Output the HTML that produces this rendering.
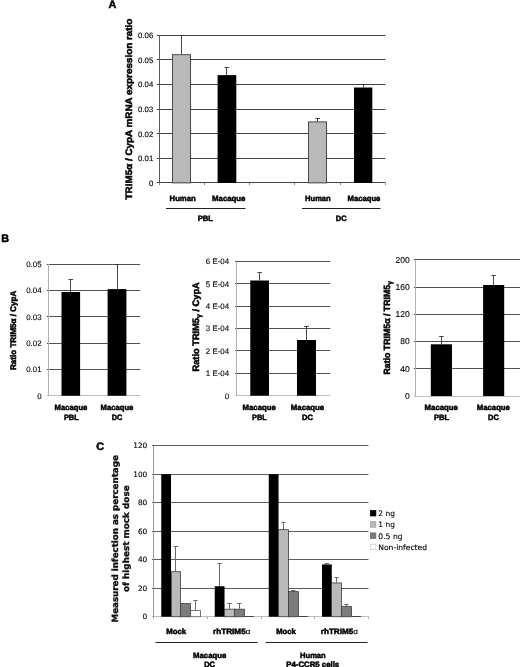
<!DOCTYPE html>
<html><head><meta charset="utf-8"><title>Figure</title>
<style>
html,body{margin:0;padding:0;background:#fff;}
svg{display:block}
text{font-family:"Liberation Sans",Arial,sans-serif;text-rendering:geometricPrecision;stroke:#000;stroke-width:0.12px}
text.b{font-weight:bold;stroke:#000;stroke-width:0.5px;fill:#000}
text.v{font-family:"DejaVu Sans",Verdana,sans-serif}
text.vb{font-family:"DejaVu Sans",Verdana,sans-serif;font-weight:bold;stroke:#000;stroke-width:0.3px}
</style></head><body>
<svg width="520" height="667" viewBox="0 0 520 667">
<rect width="520" height="667" fill="#fff"/>
<text class="b" x="108.60" y="8.20" font-size="10.8" text-anchor="start" fill="#000">A</text>
<line x1="156.80" y1="35.50" x2="385.50" y2="35.50" stroke="#444" stroke-width="1"/>
<text class="r" x="153.30" y="38.10" font-size="7.8" text-anchor="end" fill="#000">0.06</text>
<line x1="156.80" y1="59.50" x2="385.50" y2="59.50" stroke="#444" stroke-width="1"/>
<text class="r" x="153.30" y="62.70" font-size="7.8" text-anchor="end" fill="#000">0.05</text>
<line x1="156.80" y1="84.50" x2="385.50" y2="84.50" stroke="#444" stroke-width="1"/>
<text class="r" x="153.30" y="87.30" font-size="7.8" text-anchor="end" fill="#000">0.04</text>
<line x1="156.80" y1="109.50" x2="385.50" y2="109.50" stroke="#444" stroke-width="1"/>
<text class="r" x="153.30" y="111.90" font-size="7.8" text-anchor="end" fill="#000">0.03</text>
<line x1="156.80" y1="133.50" x2="385.50" y2="133.50" stroke="#444" stroke-width="1"/>
<text class="r" x="153.30" y="136.50" font-size="7.8" text-anchor="end" fill="#000">0.02</text>
<line x1="156.80" y1="158.50" x2="385.50" y2="158.50" stroke="#444" stroke-width="1"/>
<text class="r" x="153.30" y="161.10" font-size="7.8" text-anchor="end" fill="#000">0.01</text>
<text class="r" x="153.30" y="185.70" font-size="7.8" text-anchor="end" fill="#000">0</text>
<line x1="156.80" y1="182.50" x2="385.50" y2="182.50" stroke="#444" stroke-width="1"/>
<line x1="159.50" y1="35.30" x2="159.50" y2="182.90" stroke="#5a5a5a" stroke-width="1"/>
<line x1="159.50" y1="182.90" x2="159.50" y2="185.10" stroke="#888" stroke-width="1"/>
<line x1="204.50" y1="182.90" x2="204.50" y2="185.10" stroke="#888" stroke-width="1"/>
<line x1="249.50" y1="182.90" x2="249.50" y2="185.10" stroke="#888" stroke-width="1"/>
<line x1="294.50" y1="182.90" x2="294.50" y2="185.10" stroke="#888" stroke-width="1"/>
<line x1="340.50" y1="182.90" x2="340.50" y2="185.10" stroke="#888" stroke-width="1"/>
<line x1="385.50" y1="182.90" x2="385.50" y2="185.10" stroke="#888" stroke-width="1"/>
<line x1="181.50" y1="35.30" x2="181.50" y2="54.30" stroke="#333" stroke-width="0.9"/>
<line x1="179.35" y1="35.50" x2="183.95" y2="35.50" stroke="#333" stroke-width="0.9"/>
<rect x="172.50" y="54.70" width="18.00" height="128.20" fill="#b9b9b9" stroke="#3c3c3c" stroke-width="0.9"/>
<line x1="226.50" y1="67.20" x2="226.50" y2="75.10" stroke="#333" stroke-width="0.9"/>
<line x1="224.65" y1="67.50" x2="229.25" y2="67.50" stroke="#333" stroke-width="0.9"/>
<rect x="217.60" y="75.10" width="18.70" height="107.80" fill="#000"/>
<line x1="317.50" y1="118.00" x2="317.50" y2="121.50" stroke="#333" stroke-width="0.9"/>
<line x1="315.35" y1="118.50" x2="319.95" y2="118.50" stroke="#333" stroke-width="0.9"/>
<rect x="308.50" y="121.90" width="18.00" height="61.00" fill="#b9b9b9" stroke="#3c3c3c" stroke-width="0.9"/>
<line x1="363.50" y1="84.50" x2="363.50" y2="87.50" stroke="#333" stroke-width="0.9"/>
<line x1="360.85" y1="84.50" x2="365.45" y2="84.50" stroke="#333" stroke-width="0.9"/>
<rect x="354.00" y="87.50" width="18.30" height="95.40" fill="#000"/>
<text class="b" x="169.60" y="200.60" font-size="7.8" text-anchor="start" fill="#000" textLength="26.10" lengthAdjust="spacingAndGlyphs">Human</text>
<text class="b" x="212.10" y="200.60" font-size="7.8" text-anchor="start" fill="#000" textLength="33.30" lengthAdjust="spacingAndGlyphs">Macaque</text>
<text class="b" x="305.10" y="200.60" font-size="7.8" text-anchor="start" fill="#000" textLength="25.60" lengthAdjust="spacingAndGlyphs">Human</text>
<text class="b" x="347.60" y="200.60" font-size="7.8" text-anchor="start" fill="#000" textLength="32.80" lengthAdjust="spacingAndGlyphs">Macaque</text>
<line x1="166.00" y1="208.50" x2="245.50" y2="208.50" stroke="#222" stroke-width="1"/>
<line x1="302.00" y1="208.50" x2="380.50" y2="208.50" stroke="#222" stroke-width="1"/>
<text class="b" x="197.70" y="220.60" font-size="7.8" text-anchor="start" fill="#000" textLength="15.30" lengthAdjust="spacingAndGlyphs">PBL</text>
<text class="b" x="335.80" y="220.60" font-size="7.8" text-anchor="start" fill="#000" textLength="10.80" lengthAdjust="spacingAndGlyphs">DC</text>
<text class="b" transform="translate(131.60,199.40) rotate(-90)" font-size="9.3" textLength="180.70" lengthAdjust="spacingAndGlyphs" fill="#111">TRIM5α / CypA mRNA expression ratio</text>
<text class="b" x="1.20" y="242.10" font-size="10.8" text-anchor="start" fill="#000">B</text>
<line x1="46.80" y1="264.50" x2="140.20" y2="264.50" stroke="#525252" stroke-width="1"/>
<text class="r" x="41.60" y="266.80" font-size="7.9" text-anchor="end" fill="#000">0.05</text>
<line x1="46.80" y1="290.50" x2="140.20" y2="290.50" stroke="#525252" stroke-width="1"/>
<text class="r" x="41.60" y="293.15" font-size="7.9" text-anchor="end" fill="#000">0.04</text>
<line x1="46.80" y1="316.50" x2="140.20" y2="316.50" stroke="#525252" stroke-width="1"/>
<text class="r" x="41.60" y="319.50" font-size="7.9" text-anchor="end" fill="#000">0.03</text>
<line x1="46.80" y1="343.50" x2="140.20" y2="343.50" stroke="#525252" stroke-width="1"/>
<text class="r" x="41.60" y="345.85" font-size="7.9" text-anchor="end" fill="#000">0.02</text>
<line x1="46.80" y1="369.50" x2="140.20" y2="369.50" stroke="#525252" stroke-width="1"/>
<text class="r" x="41.60" y="372.20" font-size="7.9" text-anchor="end" fill="#000">0.01</text>
<text class="r" x="41.60" y="398.55" font-size="7.9" text-anchor="end" fill="#000">0</text>
<line x1="46.80" y1="395.50" x2="140.20" y2="395.50" stroke="#bdbdbd" stroke-width="1"/>
<line x1="48.50" y1="264.00" x2="48.50" y2="395.75" stroke="#b0b0b0" stroke-width="1"/>
<line x1="70.50" y1="279.30" x2="70.50" y2="292.00" stroke="#333" stroke-width="0.9"/>
<line x1="68.50" y1="279.50" x2="73.10" y2="279.50" stroke="#333" stroke-width="0.9"/>
<rect x="61.50" y="292.00" width="18.60" height="103.75" fill="#000"/>
<line x1="117.50" y1="264.00" x2="117.50" y2="289.10" stroke="#333" stroke-width="0.9"/>
<line x1="114.70" y1="264.50" x2="119.30" y2="264.50" stroke="#333" stroke-width="0.9"/>
<rect x="107.60" y="289.10" width="18.80" height="106.65" fill="#000"/>
<text class="b" x="54.60" y="410.30" font-size="7.8" text-anchor="start" fill="#000" textLength="32.80" lengthAdjust="spacingAndGlyphs">Macaque</text>
<text class="b" x="63.90" y="419.80" font-size="7.8" text-anchor="start" fill="#000" textLength="14.80" lengthAdjust="spacingAndGlyphs">PBL</text>
<text class="b" x="100.60" y="410.30" font-size="7.8" text-anchor="start" fill="#000" textLength="32.80" lengthAdjust="spacingAndGlyphs">Macaque</text>
<text class="b" x="111.80" y="419.80" font-size="7.8" text-anchor="start" fill="#000" textLength="10.60" lengthAdjust="spacingAndGlyphs">DC</text>
<text class="b" transform="translate(15.80,370.00) rotate(-90)" font-size="8.2" textLength="79.30" lengthAdjust="spacingAndGlyphs" fill="#111">Ratio TRIM5α / CypA</text>
<line x1="235.00" y1="261.50" x2="330.30" y2="261.50" stroke="#525252" stroke-width="1"/>
<text class="r" x="229.10" y="264.30" font-size="7.9" text-anchor="end" fill="#000">6 E-04</text>
<line x1="235.00" y1="283.50" x2="330.30" y2="283.50" stroke="#525252" stroke-width="1"/>
<text class="r" x="229.10" y="286.67" font-size="7.9" text-anchor="end" fill="#000">5 E-04</text>
<line x1="235.00" y1="306.50" x2="330.30" y2="306.50" stroke="#525252" stroke-width="1"/>
<text class="r" x="229.10" y="309.04" font-size="7.9" text-anchor="end" fill="#000">4 E-04</text>
<line x1="235.00" y1="328.50" x2="330.30" y2="328.50" stroke="#525252" stroke-width="1"/>
<text class="r" x="229.10" y="331.41" font-size="7.9" text-anchor="end" fill="#000">3 E-04</text>
<line x1="235.00" y1="350.50" x2="330.30" y2="350.50" stroke="#525252" stroke-width="1"/>
<text class="r" x="229.10" y="353.78" font-size="7.9" text-anchor="end" fill="#000">2 E-04</text>
<line x1="235.00" y1="373.50" x2="330.30" y2="373.50" stroke="#525252" stroke-width="1"/>
<text class="r" x="229.10" y="376.15" font-size="7.9" text-anchor="end" fill="#000">1 E-04</text>
<text class="r" x="229.10" y="398.52" font-size="7.9" text-anchor="end" fill="#000">0</text>
<line x1="235.00" y1="395.50" x2="330.30" y2="395.50" stroke="#bdbdbd" stroke-width="1"/>
<line x1="236.50" y1="261.50" x2="236.50" y2="395.72" stroke="#b0b0b0" stroke-width="1"/>
<line x1="259.50" y1="272.80" x2="259.50" y2="280.50" stroke="#333" stroke-width="0.9"/>
<line x1="257.35" y1="272.50" x2="261.95" y2="272.50" stroke="#333" stroke-width="0.9"/>
<rect x="250.30" y="280.50" width="18.70" height="115.22" fill="#000"/>
<line x1="306.50" y1="326.30" x2="306.50" y2="340.00" stroke="#333" stroke-width="0.9"/>
<line x1="304.20" y1="326.50" x2="308.80" y2="326.50" stroke="#333" stroke-width="0.9"/>
<rect x="297.00" y="340.00" width="19.00" height="55.72" fill="#000"/>
<text class="b" x="242.60" y="410.30" font-size="7.8" text-anchor="start" fill="#000" textLength="33.10" lengthAdjust="spacingAndGlyphs">Macaque</text>
<text class="b" x="252.10" y="419.80" font-size="7.8" text-anchor="start" fill="#000" textLength="14.60" lengthAdjust="spacingAndGlyphs">PBL</text>
<text class="b" x="290.80" y="410.30" font-size="7.8" text-anchor="start" fill="#000" textLength="33.40" lengthAdjust="spacingAndGlyphs">Macaque</text>
<text class="b" x="302.10" y="419.80" font-size="7.8" text-anchor="start" fill="#000" textLength="10.90" lengthAdjust="spacingAndGlyphs">DC</text>
<text class="b" transform="translate(199.40,371.50) rotate(-90)" font-size="9.3" textLength="89.30" lengthAdjust="spacingAndGlyphs" fill="#111">Ratio TRIM5<tspan font-size="7" dy="1.2">γ</tspan><tspan dy="-1.2"> / CypA</tspan></text>
<line x1="413.80" y1="259.50" x2="520.00" y2="259.50" stroke="#525252" stroke-width="1"/>
<text class="r" x="409.80" y="262.55" font-size="8.5" text-anchor="end" fill="#000">200</text>
<line x1="413.80" y1="287.50" x2="520.00" y2="287.50" stroke="#525252" stroke-width="1"/>
<text class="r" x="409.80" y="289.80" font-size="8.5" text-anchor="end" fill="#000">160</text>
<line x1="413.80" y1="314.50" x2="520.00" y2="314.50" stroke="#525252" stroke-width="1"/>
<text class="r" x="409.80" y="317.05" font-size="8.5" text-anchor="end" fill="#000">120</text>
<line x1="413.80" y1="341.50" x2="520.00" y2="341.50" stroke="#525252" stroke-width="1"/>
<text class="r" x="409.80" y="344.30" font-size="8.5" text-anchor="end" fill="#000">80</text>
<line x1="413.80" y1="368.50" x2="520.00" y2="368.50" stroke="#525252" stroke-width="1"/>
<text class="r" x="409.80" y="371.55" font-size="8.5" text-anchor="end" fill="#000">40</text>
<text class="r" x="409.80" y="398.80" font-size="8.5" text-anchor="end" fill="#000">0</text>
<line x1="413.80" y1="396.50" x2="520.00" y2="396.50" stroke="#bdbdbd" stroke-width="1"/>
<line x1="415.50" y1="259.75" x2="415.50" y2="396.00" stroke="#b0b0b0" stroke-width="1"/>
<line x1="441.50" y1="336.50" x2="441.50" y2="344.30" stroke="#333" stroke-width="0.9"/>
<line x1="439.10" y1="336.50" x2="443.70" y2="336.50" stroke="#333" stroke-width="0.9"/>
<rect x="430.80" y="344.30" width="21.20" height="51.70" fill="#000"/>
<line x1="493.50" y1="275.50" x2="493.50" y2="285.00" stroke="#333" stroke-width="0.9"/>
<line x1="491.35" y1="275.50" x2="495.95" y2="275.50" stroke="#333" stroke-width="0.9"/>
<rect x="483.10" y="285.00" width="21.10" height="111.00" fill="#000"/>
<text class="b" x="424.60" y="410.30" font-size="7.8" text-anchor="start" fill="#000" textLength="33.30" lengthAdjust="spacingAndGlyphs">Macaque</text>
<text class="b" x="433.90" y="419.80" font-size="7.8" text-anchor="start" fill="#000" textLength="15.30" lengthAdjust="spacingAndGlyphs">PBL</text>
<text class="b" x="476.80" y="410.30" font-size="7.8" text-anchor="start" fill="#000" textLength="33.10" lengthAdjust="spacingAndGlyphs">Macaque</text>
<text class="b" x="488.10" y="419.80" font-size="7.8" text-anchor="start" fill="#000" textLength="10.80" lengthAdjust="spacingAndGlyphs">DC</text>
<text class="b" transform="translate(390.30,374.50) rotate(-90)" font-size="9.0" textLength="93.50" lengthAdjust="spacingAndGlyphs" fill="#111">Ratio TRIM5α / TRIM5<tspan font-size="7" dy="1.2">γ</tspan></text>
<text class="b" x="96.20" y="449.60" font-size="10.8" text-anchor="start" fill="#000">C</text>
<line x1="152.00" y1="445.50" x2="368.50" y2="445.50" stroke="#5c5c5c" stroke-width="1"/>
<text class="v" x="147.30" y="448.45" font-size="7.4" text-anchor="end" fill="#000">120</text>
<line x1="152.00" y1="474.50" x2="368.50" y2="474.50" stroke="#5c5c5c" stroke-width="1"/>
<text class="v" x="147.30" y="476.95" font-size="7.4" text-anchor="end" fill="#000">100</text>
<line x1="152.00" y1="502.50" x2="368.50" y2="502.50" stroke="#5c5c5c" stroke-width="1"/>
<text class="v" x="147.30" y="505.45" font-size="7.4" text-anchor="end" fill="#000">80</text>
<line x1="152.00" y1="531.50" x2="368.50" y2="531.50" stroke="#5c5c5c" stroke-width="1"/>
<text class="v" x="147.30" y="533.95" font-size="7.4" text-anchor="end" fill="#000">60</text>
<line x1="152.00" y1="559.50" x2="368.50" y2="559.50" stroke="#5c5c5c" stroke-width="1"/>
<text class="v" x="147.30" y="562.45" font-size="7.4" text-anchor="end" fill="#000">40</text>
<line x1="152.00" y1="588.50" x2="368.50" y2="588.50" stroke="#5c5c5c" stroke-width="1"/>
<text class="v" x="147.30" y="590.95" font-size="7.4" text-anchor="end" fill="#000">20</text>
<text class="v" x="147.30" y="619.45" font-size="7.4" text-anchor="end" fill="#000">0</text>
<line x1="152.00" y1="616.50" x2="368.50" y2="616.50" stroke="#bdbdbd" stroke-width="1"/>
<line x1="153.50" y1="445.75" x2="153.50" y2="616.75" stroke="#999" stroke-width="1"/>
<line x1="153.50" y1="616.75" x2="153.50" y2="618.95" stroke="#aaa" stroke-width="1"/>
<line x1="207.50" y1="616.75" x2="207.50" y2="618.95" stroke="#aaa" stroke-width="1"/>
<line x1="261.50" y1="616.75" x2="261.50" y2="618.95" stroke="#aaa" stroke-width="1"/>
<line x1="314.50" y1="616.75" x2="314.50" y2="618.95" stroke="#aaa" stroke-width="1"/>
<line x1="368.50" y1="616.75" x2="368.50" y2="618.95" stroke="#aaa" stroke-width="1"/>
<rect x="161.25" y="474.25" width="9.78" height="142.50" fill="#000"/>
<line x1="175.50" y1="546.21" x2="175.50" y2="571.29" stroke="#5a5a5a" stroke-width="0.9"/>
<line x1="173.72" y1="546.50" x2="178.12" y2="546.50" stroke="#5a5a5a" stroke-width="0.9"/>
<rect x="171.50" y="571.69" width="9.00" height="45.06" fill="#b9b9b9" stroke="#3c3c3c" stroke-width="0.8"/>
<rect x="180.50" y="603.61" width="10.00" height="13.14" fill="#7d7d7d" stroke="#3c3c3c" stroke-width="0.8"/>
<line x1="195.50" y1="600.79" x2="195.50" y2="610.05" stroke="#5a5a5a" stroke-width="0.9"/>
<line x1="193.28" y1="600.50" x2="197.68" y2="600.50" stroke="#5a5a5a" stroke-width="0.9"/>
<rect x="190.50" y="610.45" width="10.00" height="6.30" fill="#fff" stroke="#555" stroke-width="0.8"/>
<line x1="219.50" y1="563.74" x2="219.50" y2="586.25" stroke="#5a5a5a" stroke-width="0.9"/>
<line x1="217.44" y1="563.50" x2="221.84" y2="563.50" stroke="#5a5a5a" stroke-width="0.9"/>
<rect x="214.75" y="586.25" width="9.78" height="30.50" fill="#000"/>
<line x1="229.50" y1="603.50" x2="229.50" y2="608.77" stroke="#5a5a5a" stroke-width="0.9"/>
<line x1="227.22" y1="603.50" x2="231.62" y2="603.50" stroke="#5a5a5a" stroke-width="0.9"/>
<rect x="224.50" y="609.17" width="10.00" height="7.58" fill="#b9b9b9" stroke="#3c3c3c" stroke-width="0.8"/>
<line x1="239.50" y1="603.50" x2="239.50" y2="608.77" stroke="#5a5a5a" stroke-width="0.9"/>
<line x1="237.00" y1="603.50" x2="241.40" y2="603.50" stroke="#5a5a5a" stroke-width="0.9"/>
<rect x="234.50" y="609.17" width="10.00" height="7.58" fill="#7d7d7d" stroke="#3c3c3c" stroke-width="0.8"/>
<line x1="244.09" y1="616.50" x2="253.87" y2="616.50" stroke="#444" stroke-width="1"/>
<rect x="268.75" y="474.25" width="9.78" height="142.50" fill="#000"/>
<line x1="283.50" y1="522.56" x2="283.50" y2="529.25" stroke="#5a5a5a" stroke-width="0.9"/>
<line x1="281.22" y1="522.50" x2="285.62" y2="522.50" stroke="#5a5a5a" stroke-width="0.9"/>
<rect x="278.50" y="529.65" width="10.00" height="87.10" fill="#b9b9b9" stroke="#3c3c3c" stroke-width="0.8"/>
<line x1="293.50" y1="590.67" x2="293.50" y2="591.24" stroke="#5a5a5a" stroke-width="0.9"/>
<line x1="291.00" y1="590.50" x2="295.40" y2="590.50" stroke="#5a5a5a" stroke-width="0.9"/>
<rect x="288.50" y="591.64" width="10.00" height="25.11" fill="#7d7d7d" stroke="#3c3c3c" stroke-width="0.8"/>
<line x1="298.09" y1="616.50" x2="307.87" y2="616.50" stroke="#444" stroke-width="1"/>
<line x1="326.50" y1="563.17" x2="326.50" y2="564.45" stroke="#5a5a5a" stroke-width="0.9"/>
<line x1="324.69" y1="563.50" x2="329.09" y2="563.50" stroke="#5a5a5a" stroke-width="0.9"/>
<rect x="322.00" y="564.45" width="9.78" height="52.30" fill="#000"/>
<line x1="336.50" y1="577.99" x2="336.50" y2="582.55" stroke="#5a5a5a" stroke-width="0.9"/>
<line x1="334.47" y1="577.50" x2="338.87" y2="577.50" stroke="#5a5a5a" stroke-width="0.9"/>
<rect x="331.50" y="582.95" width="10.00" height="33.80" fill="#b9b9b9" stroke="#3c3c3c" stroke-width="0.8"/>
<line x1="346.50" y1="604.21" x2="346.50" y2="606.21" stroke="#5a5a5a" stroke-width="0.9"/>
<line x1="344.25" y1="604.50" x2="348.65" y2="604.50" stroke="#5a5a5a" stroke-width="0.9"/>
<rect x="341.50" y="606.61" width="10.00" height="10.14" fill="#7d7d7d" stroke="#3c3c3c" stroke-width="0.8"/>
<line x1="351.34" y1="616.50" x2="361.12" y2="616.50" stroke="#444" stroke-width="1"/>
<text class="b" x="166.30" y="634.30" font-size="7.8" text-anchor="start" fill="#000" textLength="19.90" lengthAdjust="spacingAndGlyphs">Mock</text>
<text class="b" x="213.10" y="634.30" font-size="7.8" text-anchor="start" fill="#000" textLength="37.30" lengthAdjust="spacingAndGlyphs">rhTRIM5<tspan style="font-weight:normal;stroke-width:0.15px">α</tspan></text>
<text class="b" x="276.30" y="634.30" font-size="7.8" text-anchor="start" fill="#000" textLength="19.40" lengthAdjust="spacingAndGlyphs">Mock</text>
<text class="b" x="320.80" y="634.30" font-size="7.8" text-anchor="start" fill="#000" textLength="37.10" lengthAdjust="spacingAndGlyphs">rhTRIM5<tspan style="font-weight:normal;stroke-width:0.15px">α</tspan></text>
<line x1="155.50" y1="642.50" x2="257.50" y2="642.50" stroke="#222" stroke-width="1"/>
<line x1="265.50" y1="642.50" x2="367.50" y2="642.50" stroke="#222" stroke-width="1"/>
<text class="b" x="193.10" y="657.60" font-size="7.8" text-anchor="start" fill="#000" textLength="33.10" lengthAdjust="spacingAndGlyphs">Macaque</text>
<text class="b" x="204.20" y="666.60" font-size="7.8" text-anchor="start" fill="#000" textLength="10.80" lengthAdjust="spacingAndGlyphs">DC</text>
<text class="b" x="300.10" y="657.60" font-size="7.8" text-anchor="start" fill="#000" textLength="25.60" lengthAdjust="spacingAndGlyphs">Human</text>
<text class="b" x="286.30" y="666.60" font-size="7.8" text-anchor="start" fill="#000" textLength="52.90" lengthAdjust="spacingAndGlyphs">P4-CCR5 cells</text>
<text class="vb" transform="translate(117.80,622.50) rotate(-90)" font-size="8.6" textLength="167.30" lengthAdjust="spacingAndGlyphs" fill="#111">Measured infection as percentage</text>
<text class="vb" transform="translate(128.70,592.00) rotate(-90)" font-size="8.6" textLength="106.70" lengthAdjust="spacingAndGlyphs" fill="#111">of highest mock dose</text>
<rect x="370.30" y="510.40" width="5.60" height="5.60" fill="#000" stroke="#000" stroke-width="0.7"/>
<text class="v" x="378.30" y="516.10" font-size="7.6" text-anchor="start" fill="#000" textLength="16.60" lengthAdjust="spacingAndGlyphs">2 ng</text>
<rect x="370.30" y="521.65" width="5.60" height="5.60" fill="#b9b9b9" stroke="#a0a0a0" stroke-width="0.7"/>
<text class="v" x="378.30" y="527.35" font-size="7.6" text-anchor="start" fill="#000" textLength="16.60" lengthAdjust="spacingAndGlyphs">1 ng</text>
<rect x="370.30" y="532.90" width="5.60" height="5.60" fill="#7d7d7d" stroke="#686868" stroke-width="0.7"/>
<text class="v" x="378.30" y="538.60" font-size="7.6" text-anchor="start" fill="#000" textLength="24.30" lengthAdjust="spacingAndGlyphs">0.5 ng</text>
<rect x="370.30" y="544.15" width="5.60" height="5.60" fill="#fff" stroke="#c6c6c6" stroke-width="0.7"/>
<text class="v" x="378.30" y="549.85" font-size="7.6" text-anchor="start" fill="#000" textLength="48.80" lengthAdjust="spacingAndGlyphs">Non-infected</text>
</svg>
</body></html>
